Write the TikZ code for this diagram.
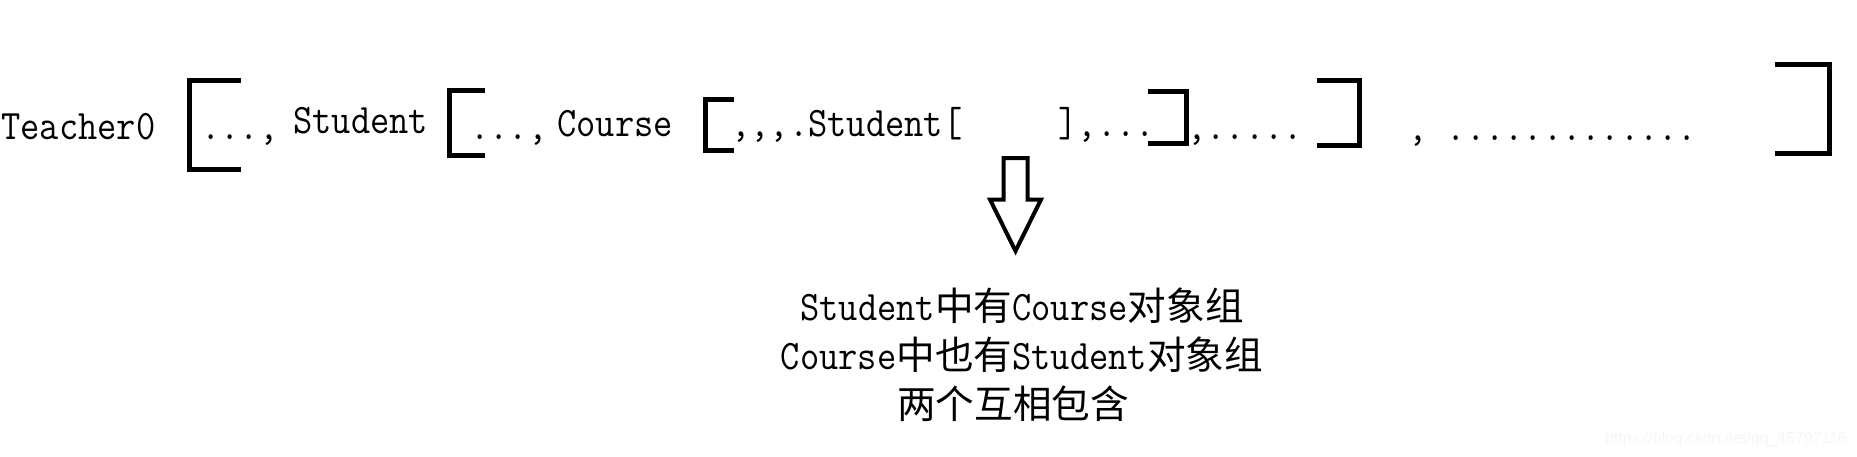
\documentclass[tikz,border=0pt]{standalone}
\usepackage{fontspec}
\newfontfamily\monofont[FakeStretch=0.89]{Latin Modern Mono}
\newfontfamily\cjkfont[Scale=0.92]{Noto Sans CJK SC}
\newfontfamily\markfont{Liberation Sans}

\tikzset{
	txt/.style={inner sep=0pt, anchor=base west, font=\monofont\fontsize{21pt}{25pt}\selectfont},
	note/.style={inner sep=0pt, anchor=base, font=\monofont\fontsize{21pt}{25pt}\selectfont},
	bracket/.style={line width=2.5pt, line join=miter},
}

\begin{document}
\begin{tikzpicture}[x=0.5pt, y=-0.5pt]
			\useasboundingbox (0,0) rectangle (1857,456);
			
			% line of nested arrays
			\node[txt] (teacher) at (1,139) {Teacher0};
			\node[txt] (dotsA) at (201,139) {...,};
			\node[txt] (student) at (293,133) {Student};
			\node[txt] (dotsB) at (470,139) {...,};
			\node[txt] (course) at (557,136) {Course};
			\node[txt] (inner) at (731,136) {,,,.Student[\ \ \ \ \ ],...};
			\node[txt] (dotsC) at (1187,139) {,.....};
			\node[txt] (dotsD) at (1408,140) {,\ .............};
			
			% brackets
			\draw[bracket] (241,80.5) -- (189.5,80.5) -- (189.5,169.5) -- (241,169.5);
			\draw[bracket] (485,90.5) -- (449.5,90.5) -- (449.5,155.5) -- (485,155.5);
			\draw[bracket] (734,99.5) -- (705.5,99.5) -- (705.5,150.5) -- (734,150.5);
			\draw[bracket] (1148,91.5) -- (1186.5,91.5) -- (1186.5,143.5) -- (1148,143.5);
			\draw[bracket] (1317,80.5) -- (1359.5,80.5) -- (1359.5,145.5) -- (1317,145.5);
			\draw[bracket] (1775,64.5) -- (1829.5,64.5) -- (1829.5,153.5) -- (1775,153.5);
			
			% hollow arrow
			\draw[line width=2pt, line join=miter] (1003.5,158) -- (1027.5,158) -- (1027.5,199.5) -- (1041,199.5)
				-- (1015.5,251) -- (990,199.5) -- (1003.5,199.5) -- cycle;
			
			% explanation
			\node[note] (note1) at (1022,320) {Student{\cjkfont 中有}Course{\cjkfont 对象组}};
			\node[note] (note2) at (1022,369) {Course{\cjkfont 中也有}Student{\cjkfont 对象组}};
			\node[note] (note3) at (1013,418) {\cjkfont 两个互相包含};
			
			\node[inner sep=0pt, anchor=base east, text=gray!7, font=\markfont\fontsize{7.9pt}{9pt}\selectfont] (mark) at (1847,443) {https://blog.csdn.net/qq\_45797116};
\end{tikzpicture}
\end{document}
